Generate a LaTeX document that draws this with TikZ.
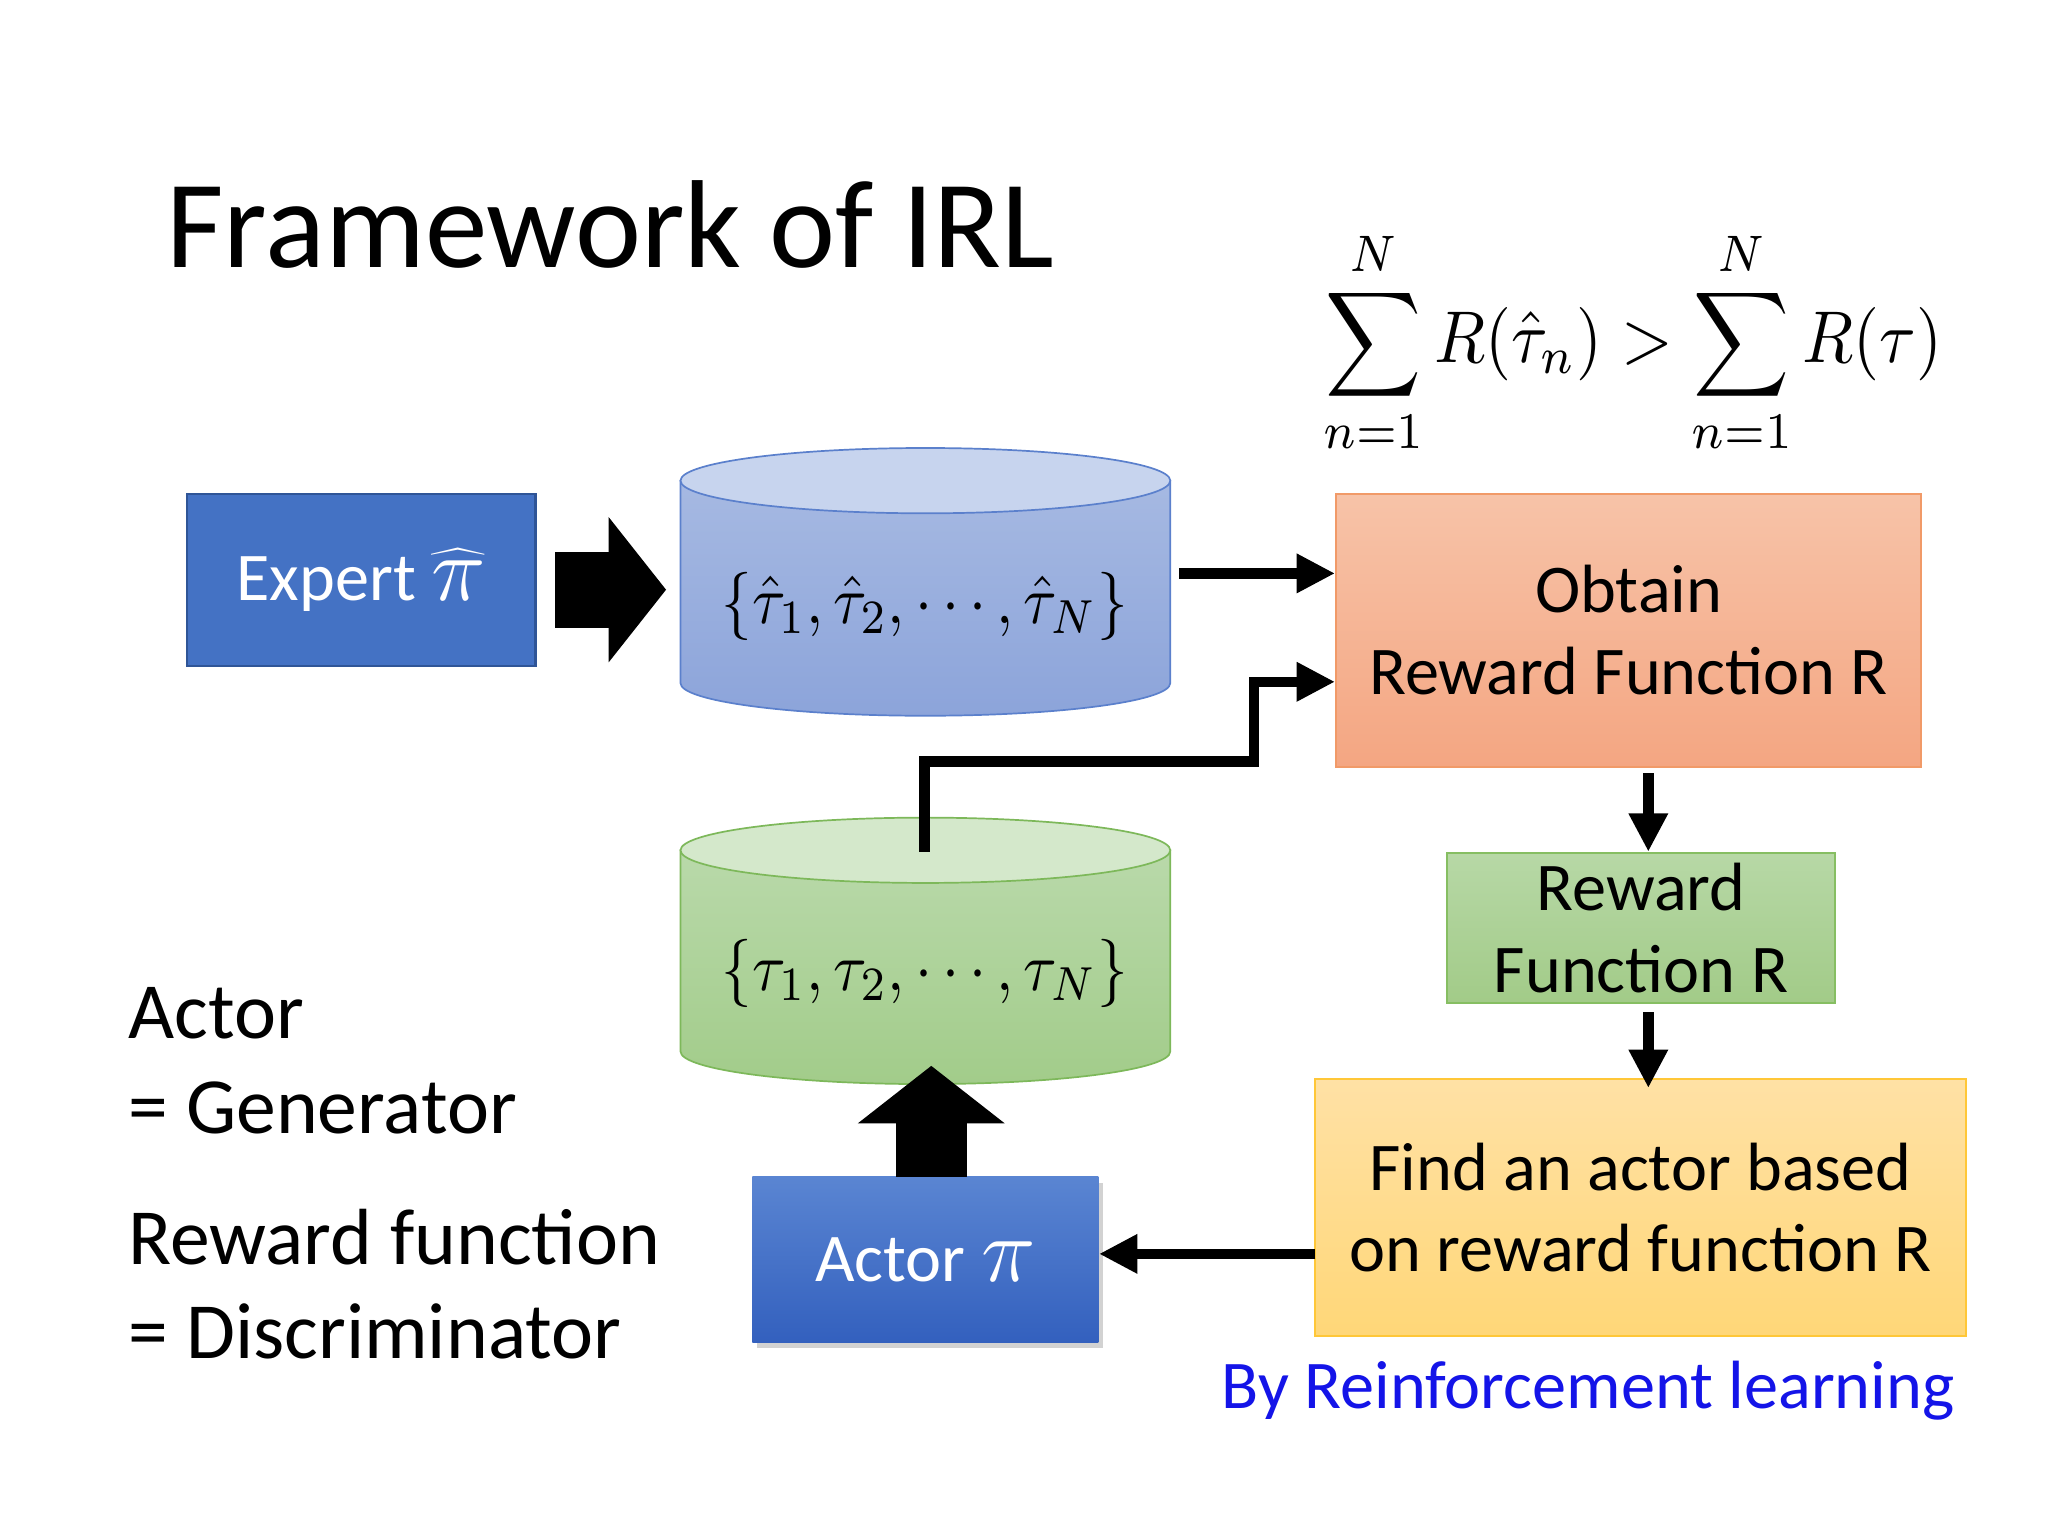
\documentclass[tikz,border=0pt]{standalone}
\usepackage{graphicx}
\usepackage[no-math]{fontspec}
\setmainfont{Carlito}
\usetikzlibrary{arrows.meta,shadows}
\newcommand\pxu{0.459184pt}
\definecolor{expfill}{HTML}{4472C4}
\definecolor{expdraw}{HTML}{2F5597}
\definecolor{acttop}{HTML}{5A85D2}
\definecolor{actbot}{HTML}{3360BE}
\definecolor{obttop}{HTML}{F7C3A8}
\definecolor{obtbot}{HTML}{F4A682}
\definecolor{obtdraw}{HTML}{F19A68}
\definecolor{rewtop}{HTML}{B7D8A6}
\definecolor{rewbot}{HTML}{A2CB88}
\definecolor{rewdraw}{HTML}{86BE62}
\definecolor{findtop}{HTML}{FFE1A5}
\definecolor{findbot}{HTML}{FFD778}
\definecolor{finddraw}{HTML}{FFC738}
\definecolor{bcyltop}{HTML}{C7D4EE}
\definecolor{bcylA}{HTML}{A6B9E2}
\definecolor{bcylB}{HTML}{8CA4DA}
\definecolor{bcyldraw}{HTML}{5B80CC}
\definecolor{gcyltop}{HTML}{D4E8CB}
\definecolor{gcylA}{HTML}{B9D9AA}
\definecolor{gcylB}{HTML}{A2CC8A}
\definecolor{gcyldraw}{HTML}{7DB85A}
\definecolor{rlblue}{HTML}{1414E8}
\tikzset{
  boxtext/.style={font=\fontsize{24}{28.8}\selectfont, align=center, inner sep=0pt},
  bigtext/.style={font=\fontsize{28}{34}\selectfont, anchor=base west, inner sep=0pt},
  conn/.style={line width=3.7pt, -{Triangle[width=13pt,length=13.5pt]}, miter limit=10},
  fatright/.style={line width=26.6pt, -{Triangle[width=50pt,length=20.2pt]}},
  fatup/.style={line width=24.8pt, -{Triangle[width=50.5pt,length=20.2pt]}},
  cylmath/.style={inner sep=0pt}
}
\begin{document}
\begin{tikzpicture}[x=0.459184pt,y=-0.459184pt]
\useasboundingbox (0,0) rectangle (1568,1176);
\fill[white] (0,0) rectangle (1568,1176);

% title
\node[anchor=base west, inner sep=0pt, font=\fontsize{44}{53}\selectfont] (title) at (127,205) {Framework of IRL};

% inequality
\node[inner sep=0pt] (ineq) at (1250,262)
  {\scalebox{2.34}[2.58]{$\displaystyle\sum_{n=1}^{N} R(\hat{\tau}_n) > \sum_{n=1}^{N} R(\tau)$}};

% boxes
\node[draw=expdraw, line width=0.8pt, fill=expfill, text=white, boxtext,
      minimum width=267*\pxu, minimum height=132*\pxu] (expert) at (276.5,444) {Expert \scalebox{1.3}{$\widehat{\pi}$}};
\node[draw=obtdraw, line width=0.8pt, top color=obttop, bottom color=obtbot, boxtext,
      minimum width=448*\pxu, minimum height=209*\pxu] (obtain) at (1247,482.5) {Obtain\\Reward Function R};
\node[draw=rewdraw, line width=0.8pt, top color=rewtop, bottom color=rewbot, boxtext,
      minimum width=297*\pxu, minimum height=115*\pxu] (reward) at (1256.5,710.5) {Reward\\Function R};
\node[draw=finddraw, line width=0.8pt, top color=findtop, bottom color=findbot, boxtext,
      minimum width=498*\pxu, minimum height=197*\pxu] (find) at (1256,924.5) {Find an actor based\\on reward function R};
\node[top color=acttop, bottom color=actbot, text=white, boxtext,
      drop shadow={opacity=0.35, shadow xshift=1.5pt, shadow yshift=-2pt},
      minimum width=265*\pxu, minimum height=127*\pxu] (actor) at (708.5,964.5) {Actor \scalebox{1.3}{$\pi$}};

% blue cylinder
\path[draw=bcyldraw, line width=0.6pt, top color=bcylA, bottom color=bcylB]
  (521,368) -- (521,523) arc[start angle=180, end angle=0, x radius=187.5, y radius=25] -- (896,368) -- cycle;
\path[draw=bcyldraw, line width=0.6pt, fill=bcyltop] (708.5,368) ellipse[x radius=187.5, y radius=25];
\node[cylmath] (expdata) at (708,464) {\scalebox{2.15}[2.4]{$\{\hat{\tau}_1,\hat{\tau}_2,\cdots,\hat{\tau}_N\}$}};

% green cylinder
\path[draw=gcyldraw, line width=0.6pt, top color=gcylA, bottom color=gcylB]
  (521,651) -- (521,805) arc[start angle=180, end angle=0, x radius=187.5, y radius=25] -- (896,651) -- cycle;
\path[draw=gcyldraw, line width=0.6pt, fill=gcyltop] (708.5,651) ellipse[x radius=187.5, y radius=25];
\node[cylmath] (actdata) at (708,745) {\scalebox{2.15}[2.4]{$\{\tau_1,\tau_2,\cdots,\tau_N\}$}};

% fat arrows
\coordinate (f1s) at (425,451.5);
\coordinate (f1e) at (510,451.5);
\draw[fatright] (f1s) -- (f1e);
\coordinate (f2s) at (713,901);
\coordinate (f2e) at (713,816);
\draw[fatup] (f2s) -- (f2e);

% connectors
\coordinate (a1s) at (903,439);
\draw[conn] (a1s) -- (a1s -| obtain.west);
\coordinate (e0) at (708,652);
\coordinate (e1) at (708,583);
\coordinate (e2) at (960,583);
\coordinate (e3) at (960,522);
\draw[conn] (e0) -- (e1) -- (e2) -- (e3) -- (e3 -| obtain.west);
\coordinate (a2s) at (1262,592);
\draw[conn] (a2s) -- (a2s |- reward.north);
\coordinate (a3s) at (1262,775);
\coordinate (a3e) at (1262,833);
\draw[conn] (a3s) -- (a3e);
\coordinate (a4s) at (1007,960);
\draw[conn] (a4s) -- (a4s -| actor.east);

% left texts
\node[bigtext] (t1) at (98,795) {Actor};
\node[bigtext] (t2) at (98,868) {= Generator};
\node[bigtext] (t3) at (98,968) {Reward function};
\node[bigtext] (t4) at (98,1040) {= Discriminator};

% RL note
\node[anchor=base west, inner sep=0pt, text=rlblue, font=\fontsize{24}{29}\selectfont] (rl) at (935,1078) {By Reinforcement learning};
\end{tikzpicture}
\end{document}
